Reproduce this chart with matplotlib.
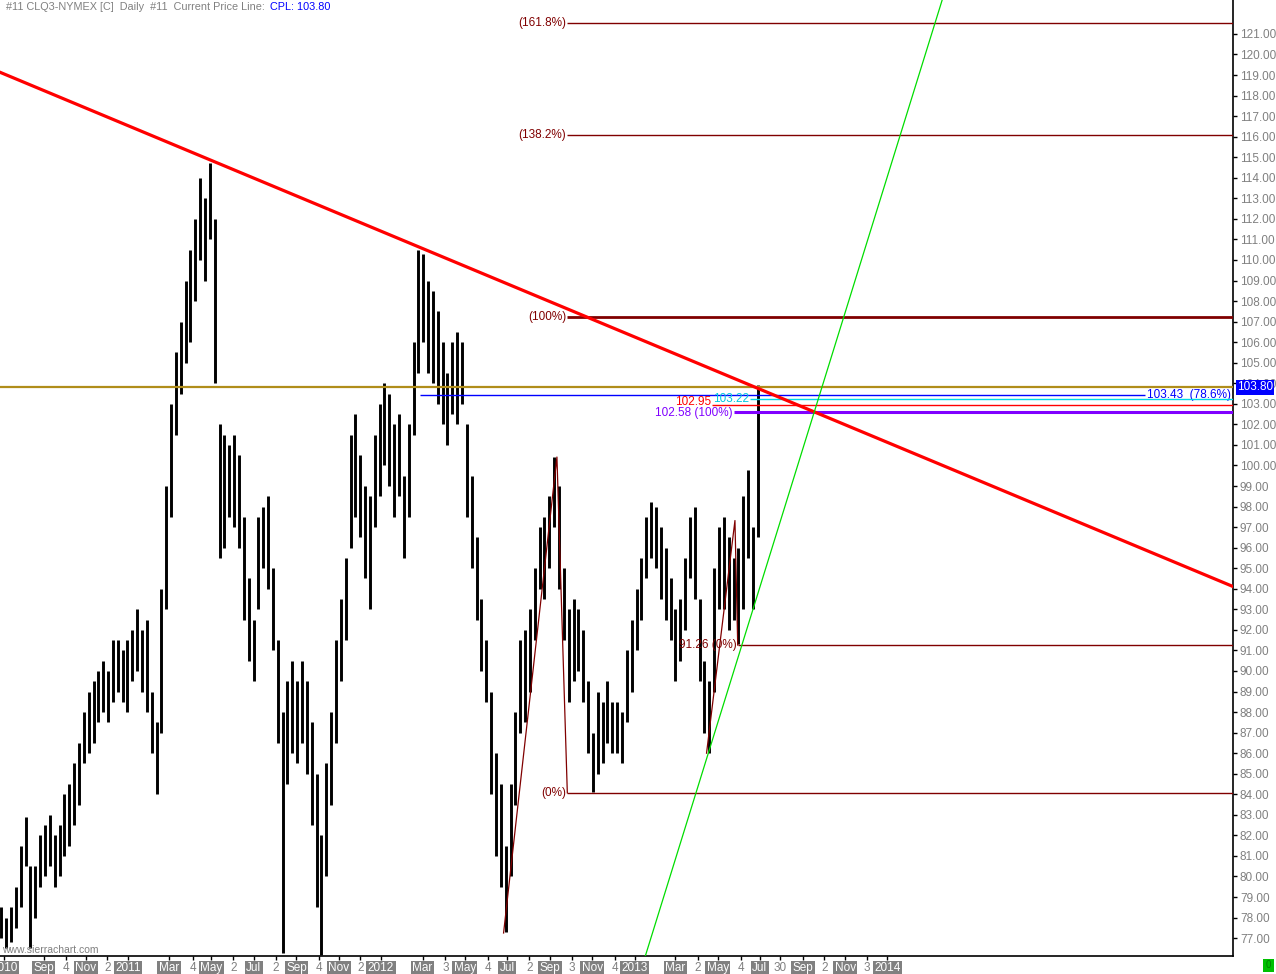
import numpy as np
import pandas as pd
import matplotlib
matplotlib.use("Agg")
import matplotlib.pyplot as plt
import matplotlib.dates as mdates
from matplotlib.transforms import blended_transform_factory
from matplotlib.patches import Rectangle

plt.rcParams['font.family'] = ['Liberation Sans', 'DejaVu Sans']

# weekly high / low
week_start = "2010-07-02"
week_high = [78.5, 78.0, 78.5, 79.5, 81.5, 82.9, 80.5, 80.5, 82.0, 82.5,
             83.0, 82.0, 82.5, 84.0, 84.5, 85.5, 86.5, 88.0, 89.0, 89.5,
             90.0, 90.5, 90.0, 91.5, 91.5, 91.0, 91.5, 92.0, 93.0, 92.0,
             92.5, 89.0, 87.5, 94.0, 99.0, 103.0, 105.5, 107.0, 109.0, 110.5,
             112.0, 114.0, 113.0, 114.7, 112.0, 102.0, 101.5, 101.0, 101.5, 100.5,
             97.5, 94.5, 92.5, 97.5, 98.0, 98.5, 95.0, 91.5, 88.0, 89.5,
             90.5, 89.5, 90.5, 89.5, 87.5, 85.0, 82.0, 85.5, 88.0, 91.5,
             93.5, 95.5, 101.5, 102.5, 100.5, 99.0, 98.5, 101.5, 103.0, 104.0,
             103.5, 102.0, 102.5, 99.5, 102.0, 106.0, 110.5, 110.3, 109.0, 108.5,
             107.5, 106.0, 104.5, 106.0, 106.5, 106.0, 102.0, 99.5, 96.5, 93.5,
             91.5, 89.0, 86.0, 84.5, 81.5, 84.5, 88.0, 91.5, 92.0, 93.0,
             95.0, 97.0, 97.5, 98.5, 100.4, 99.0, 95.0, 93.0, 93.5, 93.0,
             92.0, 89.5, 87.0, 89.0, 88.5, 89.5, 88.5, 88.5, 88.0, 91.0,
             92.5, 94.0, 95.5, 97.5, 98.2, 98.0, 97.0, 96.0, 94.5, 93.0,
             93.5, 95.5, 97.5, 98.0, 93.5, 90.5, 89.5, 95.0, 97.0, 97.5,
             96.5, 95.5, 96.0, 98.5, 99.8, 97.0, 103.9]
week_low = [77.0, 76.5, 76.8, 77.5, 78.5, 80.5, 76.5, 78.0, 79.5, 80.0,
            80.5, 79.5, 80.0, 81.0, 81.5, 82.5, 83.5, 85.5, 86.0, 86.5,
            87.5, 88.0, 87.5, 88.5, 89.0, 88.5, 88.0, 89.5, 90.0, 89.0,
            88.0, 86.0, 84.0, 87.0, 93.0, 97.5, 101.5, 103.5, 105.0, 106.0,
            108.0, 110.0, 109.0, 111.0, 104.0, 95.5, 96.0, 97.5, 97.0, 96.0,
            92.5, 90.5, 89.5, 93.0, 95.0, 94.0, 91.0, 86.5, 76.3, 84.5,
            86.0, 85.5, 86.5, 85.0, 82.5, 78.5, 76.2, 80.0, 83.5, 86.5,
            89.5, 91.5, 96.0, 97.5, 96.5, 94.5, 93.0, 97.0, 98.5, 100.0,
            99.0, 97.5, 98.5, 95.5, 97.5, 101.5, 104.5, 106.0, 104.5, 104.0,
            103.0, 102.0, 101.0, 102.5, 102.0, 103.0, 97.5, 95.0, 92.5, 90.0,
            88.5, 84.0, 81.0, 79.5, 77.3, 80.0, 83.5, 87.0, 87.5, 89.0,
            91.5, 94.0, 93.5, 95.0, 97.0, 94.0, 91.5, 88.5, 89.5, 90.0,
            88.5, 86.0, 84.1, 85.0, 85.5, 86.5, 86.0, 86.0, 85.5, 87.5,
            89.0, 91.0, 92.5, 94.5, 95.5, 95.0, 93.5, 92.5, 91.5, 89.5,
            90.5, 92.0, 94.5, 93.5, 89.5, 87.0, 86.0, 89.0, 93.0, 93.0,
            92.0, 92.5, 91.3, 93.0, 95.5, 93.0, 96.5]

current_price = 103.80

# drawing tools
trend_pts = [("2011-04-25", 114.93), ("2012-02-27", 110.60)]
green_pts = [("2013-04-18", 86.05), ("2014-01-20", 116.12)]
fib1_pts = [("2012-06-26", 77.25), ("2012-09-11", 100.41), ("2012-09-26", 84.07)]
fib1_levels = [84.07, 107.23, 116.08, 121.54]
fib1_labels = ["(0%)", "(100%)", "(138.2%)", "(161.8%)"]
fib2_pts = [("2013-04-15", 86.0), ("2013-05-26", 97.32), ("2013-05-30", 91.26)]
fib2_level = 91.26
blue_level, blue_from, blue_to = 103.43, "2012-02-26", "2015-01-08"
cyan_level, cyan_from = 103.22, "2013-06-17"
red_level, red_from = 102.95, "2013-04-23"
purple_level, purple_from = 102.58, "2013-05-25"

tick_dates = ["2010-07-06", "2010-09-01", "2010-10-04", "2010-11-01", "2010-12-02",
              "2011-01-01", "2011-03-01", "2011-04-04", "2011-05-01", "2011-06-02",
              "2011-07-01", "2011-08-02", "2011-09-01", "2011-10-04", "2011-11-01",
              "2011-12-02", "2012-01-01", "2012-03-01", "2012-04-03", "2012-05-01",
              "2012-06-04", "2012-07-01", "2012-08-02", "2012-09-01", "2012-10-03",
              "2012-11-01", "2012-12-04", "2013-01-01", "2013-03-01", "2013-04-02",
              "2013-05-01", "2013-06-04", "2013-07-01", "2013-07-30", "2013-09-01",
              "2013-10-02", "2013-11-01", "2013-12-03", "2014-01-01"]
tick_labels = ["2010", "Sep", "4", "Nov", "2",
               "2011", "Mar", "4", "May", "2",
               "Jul", "2", "Sep", "4", "Nov",
               "2", "2012", "Mar", "3", "May",
               "4", "Jul", "2", "Sep", "3",
               "Nov", "4", "2013", "Mar", "2",
               "May", "4", "Jul", "30", "Sep",
               "2", "Nov", "3", "2014"]


def dn(s):
    return mdates.date2num(pd.Timestamp(s))


maroon = "#800000"
gray = "#808080"
fs = 8.5

fig = plt.figure(figsize=(12.76, 9.74), dpi=100)
ax = fig.add_axes([0, 18 / 974, 1233 / 1276, 956 / 974])
xmin, xmax = dn("2010-06-30"), dn("2015-05-15")
ax.set_xlim(xmin, xmax)
ax.set_ylim(76.13, 122.65)

# price bars
dates = pd.date_range(week_start, periods=len(week_high), freq="7D")
ax.vlines(mdates.date2num(dates), week_low, week_high, color="black", lw=2.1, zorder=3)

# trend line and green support
ax.axline((dn(trend_pts[0][0]), trend_pts[0][1]), (dn(trend_pts[1][0]), trend_pts[1][1]),
          color="#FF0000", lw=2.3, zorder=5)
ax.axline((dn(green_pts[0][0]), green_pts[0][1]), (dn(green_pts[1][0]), green_pts[1][1]),
          color="#00DD00", lw=0.9, zorder=5)

# current price line
ax.axhline(current_price, color="#B08D1A", lw=1.6, zorder=4)

# fib extension 1
ax.plot([dn(d) for d, _ in fib1_pts], [p for _, p in fib1_pts], color=maroon, lw=0.9, zorder=4)
c1 = dn(fib1_pts[2][0])
for lvl, lab in zip(fib1_levels, fib1_labels):
    ax.hlines(lvl, c1, xmax, color=maroon, lw=2 if lab == "(100%)" else 1, zorder=4)
    ax.text(c1 - 1.5, lvl, lab, color=maroon, fontsize=fs, ha="right", va="center")

# fib extension 2
ax.plot([dn(d) for d, _ in fib2_pts], [p for _, p in fib2_pts], color=maroon, lw=0.9, zorder=4)
c2 = dn(fib2_pts[2][0])
ax.hlines(fib2_level, c2, xmax, color=maroon, lw=1, zorder=4)
ax.text(c2 - 1.5, fib2_level, "91.26 (0%)", color=maroon, fontsize=fs, ha="right", va="center")

# other levels
ax.hlines(blue_level, dn(blue_from), dn(blue_to), color="#0000FF", lw=1, zorder=4)
ax.text(dn(blue_to) + 3, blue_level, "103.43  (78.6%)", color="#0000FF", fontsize=fs,
        ha="left", va="center")
ax.hlines(cyan_level, dn(cyan_from), xmax, color="#00D8E8", lw=1, zorder=4)
ax.text(dn(cyan_from) - 2, cyan_level, "103.22", color="#00C8E0", fontsize=fs,
        ha="right", va="center", zorder=6)
ax.hlines(red_level, dn(red_from), xmax, color="#FF0000", lw=1, zorder=4)
ax.text(dn(red_from) - 2, red_level + 0.14, "102.95", color="#FF0000", fontsize=fs,
        ha="right", va="center", zorder=6)
ax.hlines(purple_level, dn(purple_from), xmax, color="#8000FF", lw=2.2, zorder=4)
ax.text(dn(purple_from) - 2, purple_level - 0.04, "102.58 (100%)", color="#8000FF",
        fontsize=fs, ha="right", va="center", zorder=6)

# axes styling
for side in ["top", "left"]:
    ax.spines[side].set_visible(False)
ax.spines["right"].set_linewidth(1.2)
ax.spines["bottom"].set_linewidth(1.2)
ax.yaxis.tick_right()
ax.set_yticks(np.arange(77, 122))
ax.set_yticklabels([f"{v:.2f}" for v in np.arange(77, 122)])
ax.tick_params(axis="y", direction="out", length=3, width=1, colors="black",
               labelcolor=gray, labelsize=fs, pad=2)
ax.set_xticks([dn(d) for d in tick_dates])
ax.set_xticklabels(tick_labels)
ax.tick_params(axis="x", direction="out", length=3, width=1, labelsize=fs, pad=1.5)
for lab in ax.get_xticklabels():
    if lab.get_text().isdigit() and len(lab.get_text()) < 4:
        lab.set_color(gray)
    else:
        lab.set_color("white")
        lab.set_bbox(dict(boxstyle="square,pad=0.12", fc=gray, ec="none"))

# current price marker on the scale
tr = blended_transform_factory(ax.transAxes, ax.transData)
ax.text(1.003, current_price, "103.80", transform=tr, color="white", fontsize=fs,
        ha="left", va="center", clip_on=False,
        bbox=dict(boxstyle="square,pad=0.1", fc="#0000FF", ec="none"), zorder=6)

# header and watermark
fig.text(6 / 1276, 1 - 7 / 974, "#11 CLQ3-NYMEX [C]  Daily  #11  Current Price Line:",
         color=gray, fontsize=7.8, ha="left", va="center")
fig.text(270 / 1276, 1 - 7 / 974, "CPL: 103.80", color="#0000FF", fontsize=7.8,
         ha="left", va="center")
fig.text(2 / 1276, 1 - 950 / 974, "www.sierrachart.com", color=gray, fontsize=7.5,
         ha="left", va="center")

fig.patches.append(Rectangle((1263 / 1276, 2 / 974), 11 / 1276, 13 / 974,
                             transform=fig.transFigure, fc="#00C000", ec="none"))
fig.text(1268.5 / 1276, 8.5 / 974, "0", color="#008000", fontsize=7, ha="center", va="center")

fig.savefig("out.png", dpi=100, facecolor="white")
